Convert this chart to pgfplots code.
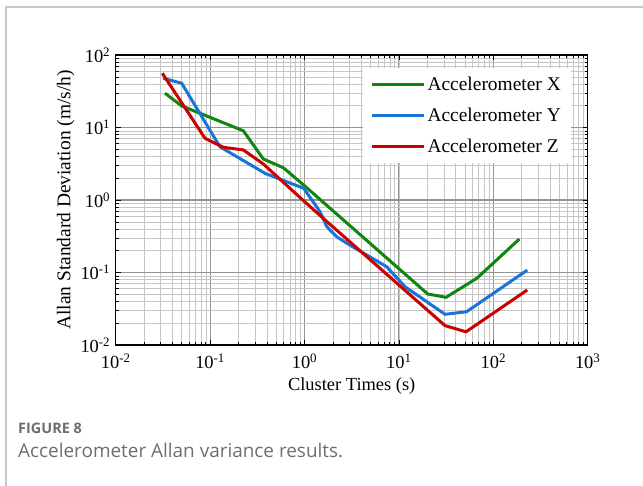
\documentclass[border=0pt]{standalone}
\usepackage{pgfplots}
\pgfplotsset{compat=1.18}
\usepackage{fontspec}
\setmainfont{Liberation Serif}
\newfontfamily\capfont{Open Sans}

\definecolor{accx}{RGB}{16,133,16}
\definecolor{accy}{RGB}{24,116,214}
\definecolor{accz}{RGB}{205,0,0}
\definecolor{framegray}{RGB}{200,200,200}
\definecolor{capgray}{RGB}{110,110,110}

\begin{document}
\begin{tikzpicture}[x=1bp,y=1bp]
    \useasboundingbox (0,0) rectangle (643,486);
    % card frame
    \draw[framegray, line width=1.5bp] (6,0) -- (6,479) -- (643,479);

    \begin{axis}[
        at={(115.7bp,141bp)}, anchor=south west,
        scale only axis,
        width=472bp, height=290bp,
        xmode=log, ymode=log,
        xmin=1e-2, xmax=1e3,
        ymin=1e-2, ymax=1e2,
        xtick={1e-2,1e-1,1,1e1,1e2,1e3},
        xticklabels={10\textsuperscript{-2},10\textsuperscript{-1},10\textsuperscript{0},10\textsuperscript{1},10\textsuperscript{2},10\textsuperscript{3}},
        ytick={1e-2,1e-1,1,1e1,1e2},
        yticklabels={10\textsuperscript{-2},10\textsuperscript{-1},10\textsuperscript{0},10\textsuperscript{1},10\textsuperscript{2}},
        tick align=inside,
        major tick length=5bp, minor tick length=3bp,
        every tick/.style={black, line width=0.6bp},
        axis line style={black, line width=1.3bp},
        grid=both,
        major grid style={gray!85, line width=1.1bp},
        minor grid style={gray!45, line width=0.5bp},
        ticklabel style={font=\fontsize{18.5}{21}\selectfont},
        xticklabel style={yshift=-5bp},
        yticklabel style={xshift=-2bp},
        xlabel={Cluster Times (s)},
        ylabel={Allan Standard Deviation (m/s/h)},
        xlabel style={font=\fontsize{18.5}{21}\selectfont, at={(axis description cs:0.5,-0.142)}, anchor=center},
        ylabel style={font=\fontsize{19.5}{22}\selectfont, at={(axis description cs:-0.106,0.5)}, anchor=center},
        legend style={
            at={(axis description cs:0.9646,0.955)}, anchor=north east,
            draw=none, fill=white,
            font=\fontsize{19.5}{22}\selectfont,
            inner xsep=8bp, inner ysep=7bp,
            row sep=12bp,
        },
        legend cell align=left,
        legend image code/.code={\draw[#1, line width=3bp] (0bp,0bp) -- (52bp,0bp);},
    ]
        % Accelerometer X
        \addplot[accx, line width=3bp] coordinates {
            (0.0333,29.7) (0.05,19.8) (0.1,13.8) (0.225,9.0) (0.366,3.68)
            (0.596,2.79) (1,1.57) (20.2,0.0505) (31.6,0.0455) (66.7,0.083)
            (189,0.29)
        };
        \addlegendentry{Accelerometer X}

        % Accelerometer Y
        \addplot[accy, line width=3bp] coordinates {
            (0.0319,47.7) (0.05,40.8) (0.127,5.43) (0.382,2.33) (0.98,1.45)
            (1.46,0.69) (1.72,0.43) (2.2,0.31) (3.0,0.24) (7.43,0.12)
            (11.6,0.0637) (30.8,0.0265) (52.2,0.0288) (229,0.108)
        };
        \addlegendentry{Accelerometer Y}

        % Accelerometer Z
        \addplot[accz, line width=3bp] coordinates {
            (0.0312,55.9) (0.0883,7.1) (0.138,5.33) (0.225,4.9) (0.366,3.14)
            (1,0.95) (1.58,0.558) (30.8,0.0185) (51.4,0.0152) (229,0.0574)
        };
        \addlegendentry{Accelerometer Z}
    \end{axis}

    % caption
    \node[anchor=base west, inner sep=0, text=capgray, font=\capfont\fontsize{14.5}{17}\selectfont\bfseries] at (18,52) {FIGURE 8};
    \node[anchor=base west, inner sep=0, text=capgray, font=\capfont\fontsize{19}{22}\selectfont] at (18,28) {Accelerometer Allan variance results.};
\end{tikzpicture}
\end{document}
